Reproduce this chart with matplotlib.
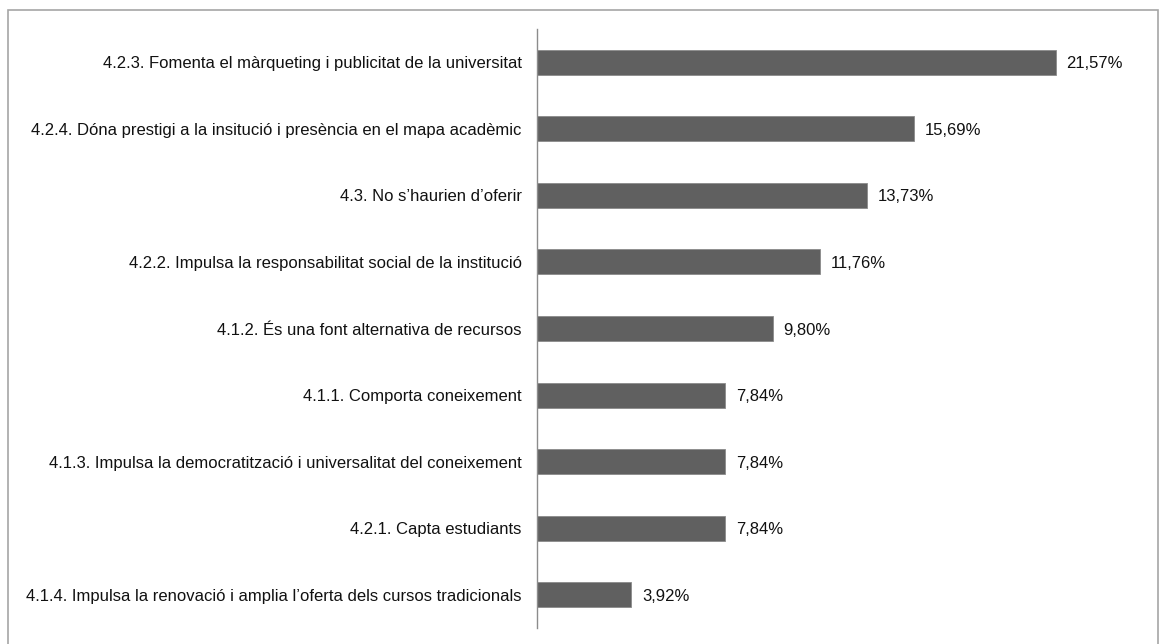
import matplotlib.pyplot as plt
from matplotlib.patches import Rectangle

categories = [
    "4.2.3. Fomenta el màrqueting i publicitat de la universitat",
    "4.2.4. Dóna prestigi a la insitució i presència en el mapa acadèmic",
    "4.3. No s’haurien d’oferir",
    "4.2.2. Impulsa la responsabilitat social de la institució",
    "4.1.2. És una font alternativa de recursos",
    "4.1.1. Comporta coneixement",
    "4.1.3. Impulsa la democratització i universalitat del coneixement",
    "4.2.1. Capta estudiants",
    "4.1.4. Impulsa la renovació i amplia l’oferta dels cursos tradicionals",
]
values = [21.57, 15.69, 13.73, 11.76, 9.80, 7.84, 7.84, 7.84, 3.92]

plt.rcParams["font.family"] = ["Liberation Sans", "DejaVu Sans"]
FS = 12

W, H = 1162, 644
fig = plt.figure(figsize=(W / 100, H / 100), dpi=100)

# axes placed in pixel terms: spine at x=537, plot spans y 29..628
left, right = 537 / W, (537 + 25 * 24.04) / W
bottom, top = 1 - 628 / H, 1 - 29 / H
ax = fig.add_axes([left, bottom, right - left, top - bottom])

ypos = list(range(len(values)))
ax.barh(ypos, values, height=0.375, color="#606060", edgecolor="#8a8a8a", linewidth=0.6)

for y, v in zip(ypos, values):
    ax.text(v + 0.45, y, f"{v:.2f}%".replace(".", ","), va="center_baseline", ha="left",
            fontsize=FS, color="#111111")

ax.set_yticks(ypos)
ax.set_yticklabels(categories, fontsize=FS, color="#111111", va="center_baseline")
ax.tick_params(axis="y", length=0, pad=11)
ax.set_xticks([])
ax.set_xlim(0, 25)
ax.set_ylim(len(values) - 0.5, -0.5)

for s in ["top", "right", "bottom"]:
    ax.spines[s].set_visible(False)
ax.spines["left"].set_color("#8c8c8c")
ax.spines["left"].set_linewidth(1.0)

# outer chart frame
fig.patches.append(Rectangle((8 / W, -0.05), (1157.5 - 8) / W, 1.05 - 10 / H,
                             transform=fig.transFigure, fill=False,
                             edgecolor="#a6a6a6", linewidth=1.2))

fig.savefig("out.png", dpi=100)
